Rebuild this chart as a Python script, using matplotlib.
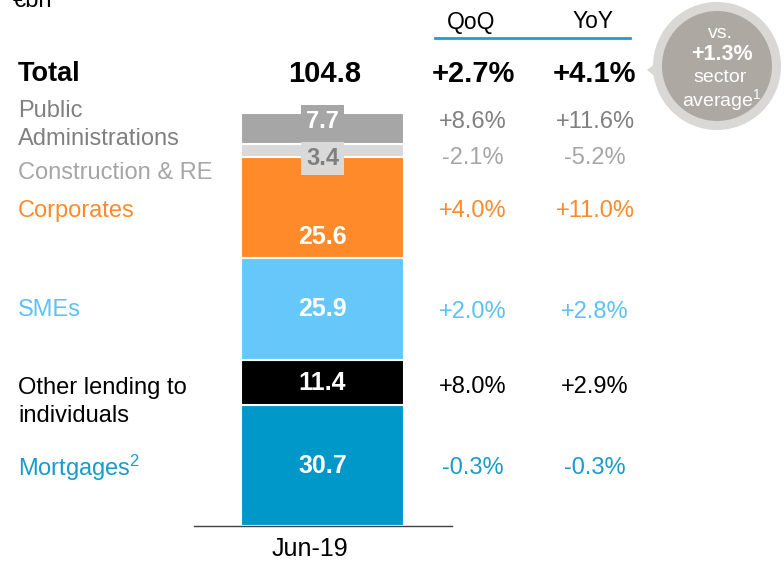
import matplotlib
matplotlib.use("Agg")
import matplotlib.pyplot as plt
from matplotlib.patches import Circle, Polygon

plt.rcParams['font.family'] = ['Liberation Sans', 'DejaVu Sans']
plt.rcParams['mathtext.default'] = 'regular'

# data (bottom to top)
segments = ["Mortgages", "Other lending to individuals", "SMEs", "Corporates",
            "Construction & RE", "Public Administrations"]
values = [30.7, 11.4, 25.9, 25.6, 3.4, 7.7]
qoq = ["-0.3%", "+8.0%", "+2.0%", "+4.0%", "-2.1%", "+8.6%"]
yoy = ["-0.3%", "+2.9%", "+2.8%", "+11.0%", "-5.2%", "+11.6%"]
total = 104.8
total_qoq = "+2.7%"
total_yoy = "+4.1%"
sector_avg = "+1.3%"
period = "Jun-19"

bar_colors = ["#0098C9", "#000000", "#66C8FA", "#FF8A2A", "#D9D9D9", "#A6A6A6"]
text_colors = ["#1A9BCB", "#000000", "#5CC2F5", "#FF8A2A", "#A6A6A6", "#808080"]
left_labels = ["Mortgages$^2$", "Other lending to\nindividuals", "SMEs", "Corporates",
               "Construction & RE", "Public\nAdministrations"]
label_y = [468, 402, 310, 211, 173, 125]   # pixel rows (from top)
value_y = [468, 387, 312, 211, 158, 122]

W, H = 784, 562
base_px = 526
k = 3.94  # pixels per €bn

fig = plt.figure(figsize=(W / 100, H / 100), dpi=100)

# bar axes: x in pixels, y in €bn
ax = fig.add_axes([0, 0, 1, 1])
ax.set_xlim(0, W)
ax.set_ylim(-(H - base_px) / k, base_px / k)
ax.axis('off')

bottom = 0
for v, c in zip(values, bar_colors):
    ax.bar(322.5, v, width=163, bottom=bottom, color=c, edgecolor='white', linewidth=1.5)
    bottom += v

# value labels inside bars
offsets = [0, 0, 0, -7.5, -2.0, 1.85]
bottom = 0
for i, v in enumerate(values):
    mid = bottom + v / 2 + offsets[i]
    if i == 5:
        ax.text(322.5, mid, f"{v:.1f}", ha='center', va='center', color='white',
                fontsize=17, fontweight='bold',
                bbox=dict(boxstyle='square,pad=0.2', fc='#A6A6A6', ec='none'))
    elif i == 4:
        ax.text(322.5, mid, f"{v:.1f}", ha='center', va='center', color='#7F7F7F',
                fontsize=17, fontweight='bold',
                bbox=dict(boxstyle='square,pad=0.2', fc='#D9D9D9', ec='none'))
    else:
        ax.text(322.5, mid, f"{v:.1f}", ha='center', va='center', color='white',
                fontsize=18, fontweight='bold')
    bottom += v

# overlay axes in pixel coordinates
ov = fig.add_axes([0, 0, 1, 1], facecolor='none')
ov.set_xlim(0, W)
ov.set_ylim(H, 0)
ov.axis('off')

ov.plot([194, 452], [base_px, base_px], color='#404040', lw=1)
ov.text(310, 549, period, ha='center', va='center', fontsize=18)

ov.text(13, 7, "€bn", ha='left', va='baseline', fontsize=17)

# headers
ov.text(471, 22, "QoQ", ha='center', va='center', fontsize=16.5)
ov.text(593, 22, "YoY", ha='center', va='center', fontsize=16.5)
ov.plot([435, 630], [38, 38], color='#1AA0D2', lw=2)

# total row
ov.text(18, 74, "Total", ha='left', va='center', fontsize=19.5, fontweight='bold')
ov.text(325, 74, f"{total:.1f}", ha='center', va='center', fontsize=21, fontweight='bold')
ov.text(473, 74, total_qoq, ha='center', va='center', fontsize=21, fontweight='bold')
ov.text(595, 74, total_yoy, ha='center', va='center', fontsize=21, fontweight='bold')

# segment rows
for lab, q, y, c, ly, vy in zip(left_labels, qoq, yoy, text_colors, label_y, value_y):
    ov.text(18, ly, lab, ha='left', va='center', fontsize=17, color=c, linespacing=1.38)
    ov.text(473, vy, q, ha='center', va='center', fontsize=17, color=c)
    ov.text(595, vy, y, ha='center', va='center', fontsize=17, color=c)

# sector average bubble
ov.add_patch(Polygon([[647, 70], [662, 58], [662, 82]], closed=True, fc='#DAD8D5', ec='none'))
ov.add_patch(Circle((717, 66), 64, fc='#DAD8D5', ec='none'))
ov.add_patch(Circle((717, 66), 55, fc='#ADA9A2', ec='none'))
ov.text(720, 33, "vs.", ha='center', va='center', color='white', fontsize=14)
ov.text(722, 55, sector_avg, ha='center', va='center', color='white', fontsize=15.5, fontweight='bold')
ov.text(720, 78, "sector", ha='center', va='center', color='white', fontsize=14)
ov.text(722, 100, "average$^1$", ha='center', va='center', color='white', fontsize=14)

fig.savefig("out.png", dpi=100)
